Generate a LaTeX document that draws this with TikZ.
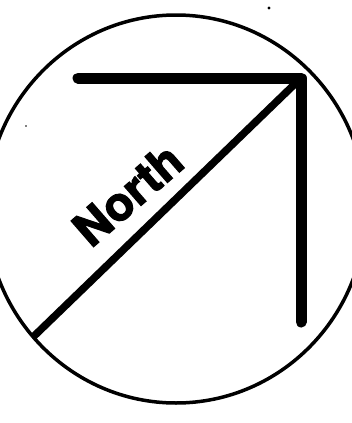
\documentclass[tikz,border=0pt]{standalone}
\usepackage{fontspec}
\setmainfont{TeX Gyre Heros}
\newfontfamily\northfont[FakeBold=2.5]{TeX Gyre Heros}
\begin{document}
\begin{tikzpicture}[x=1pt,y=-1pt,
  ring/.style={line width=3.5pt},
  elbow/.style={line width=11pt, line cap=round, line join=round},
  shaft/.style={line width=7.5pt},
  label/.style={font=\northfont\bfseries\fontsize{47}{47}\selectfont, inner sep=0pt, anchor=base west},
  speck/.style={fill=black}]
\useasboundingbox (0,0) rectangle (352,423);
\clip (0,0) rectangle (352,423);
\coordinate (c) at (176,209);
\draw[ring] (c) ellipse [x radius=190, y radius=194];
\coordinate (tail) at (78,78);
\coordinate (corner) at (301,78);
\coordinate (bottom) at (301,322);
\coordinate (far) at (0,369);
\begin{scope}
  \clip (c) ellipse [x radius=190, y radius=194];
  \draw[shaft] (corner) -- (far);
\end{scope}
\draw[elbow] (tail) -- (corner) -- (bottom);
\node[label, rotate=41] (north) at (91,249) {North};
\fill[speck] (269,8) circle (1.6);
\fill[speck] (26,126) circle (0.8);
\end{tikzpicture}
\end{document}
